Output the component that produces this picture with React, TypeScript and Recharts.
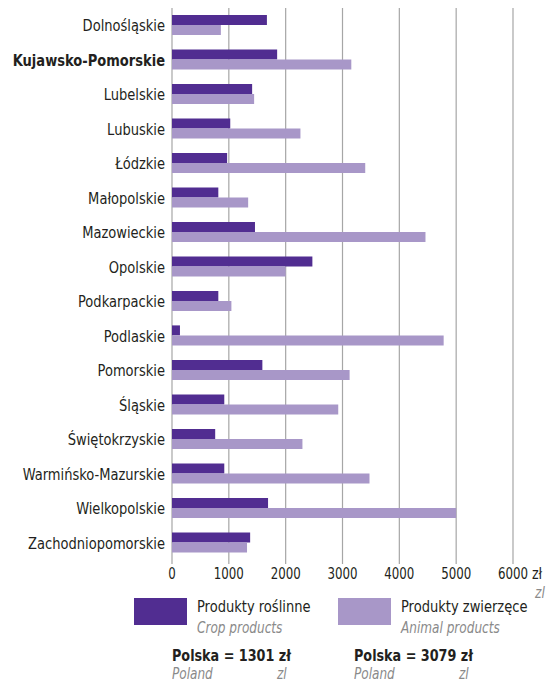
import React from 'react';
import { BarChart, Bar, XAxis, YAxis, CartesianGrid } from 'recharts';

const regions = [
  'Dolnośląskie',
  'Kujawsko-Pomorskie',
  'Lubelskie',
  'Lubuskie',
  'Łódzkie',
  'Małopolskie',
  'Mazowieckie',
  'Opolskie',
  'Podkarpackie',
  'Podlaskie',
  'Pomorskie',
  'Śląskie',
  'Świętokrzyskie',
  'Warmińsko-Mazurskie',
  'Wielkopolskie',
  'Zachodniopomorskie',
];
const cropValues = [1670, 1850, 1410, 1025, 970, 815, 1460, 2470, 815, 140, 1590, 920, 760, 920, 1690, 1375];
const animalValues = [860, 3155, 1445, 2260, 3400, 1340, 4460, 2000, 1045, 4780, 3125, 2925, 2295, 3475, 5000, 1320];
const xTicks = [0, 1000, 2000, 3000, 4000, 5000, 6000];
const boldRegion = 'Kujawsko-Pomorskie';
const seriesNamesPl = ['Produkty roślinne', 'Produkty zwierzęce'];
const seriesNamesEn = ['Crop products', 'Animal products'];
const polandAverages = [1301, 3079];
const unitPl = 'zł';
const unitEn = 'zl';
const polandPl = 'Polska';
const polandEn = 'Poland';

const CROP = '#512d91';
const ANIMAL = '#a897c8';
const FONT = "'Liberation Sans Narrow', 'DejaVu Sans Condensed', 'Arial Narrow', sans-serif";
const TEXT = '#231f20';
const GREY = '#8a8a8a';

const data = regions.map((r, i) => ({ region: r, crop: cropValues[i], animal: animalValues[i] }));

const RegionTick = (props: any) => {
  const { x, y, payload } = props;
  const bold = payload.value === boldRegion;
  return (
    <g transform={`translate(${x},${y}) scale(0.88,1)`}>
      <text
        x={0}
        y={0}
        dy="0.36em"
        textAnchor="end"
        fontFamily={FONT}
        fontSize={16.5}
        fontWeight={bold ? 700 : 400}
        fill={TEXT}
      >
        {payload.value}
      </text>
    </g>
  );
};

const ValueTick = (props: any) => {
  const { x, y, payload } = props;
  return (
    <g transform={`translate(${x},${y}) scale(0.82,1)`}>
      <text x={0} y={0} dy="0.72em" textAnchor="middle" fontFamily={FONT} fontSize={16} fill={TEXT}>
        {payload.value}
      </text>
    </g>
  );
};

const abs = (left: number, top: number, sx: number, extra: React.CSSProperties = {}): React.CSSProperties => ({
  position: 'absolute',
  left,
  top,
  fontFamily: FONT,
  lineHeight: '18px',
  whiteSpace: 'nowrap',
  transform: `scaleX(${sx})`,
  transformOrigin: 'left center',
  ...extra,
});

export default function App() {
  const legendX = [134, 338];
  const legendTextX = [197, 401];
  const avgX = [172, 354];
  return (
    <div style={{ position: 'absolute', left: 0, top: 0, width: 549, height: 682, background: '#fff', overflow: 'hidden' }}>
      <BarChart
        width={549}
        height={682}
        data={data}
        layout="vertical"
        margin={{ top: 8, right: 36, bottom: 92, left: 0 }}
        barCategoryGap="20%"
        barGap={0}
      >
        <CartesianGrid horizontal={false} vertical={true} stroke="#a6a6a6" strokeWidth={1.2} />
        <XAxis
          type="number"
          domain={[0, 6000]}
          ticks={xTicks}
          axisLine={false}
          tickLine={{ stroke: '#a6a6a6', strokeWidth: 1.2 }}
          tickSize={4}
          tickMargin={3}
          height={30}
          interval={0}
          tick={<ValueTick />}
        />
        <YAxis
          type="category"
          dataKey="region"
          width={172}
          axisLine={false}
          tickLine={false}
          tickSize={0}
          tickMargin={7}
          interval={0}
          tick={<RegionTick />}
        />
        <Bar dataKey="crop" fill={CROP} isAnimationActive={false} />
        <Bar dataKey="animal" fill={ANIMAL} isAnimationActive={false} />
      </BarChart>

      <div style={abs(532, 565, 0.85, { fontSize: 16.5, color: TEXT })}>{unitPl}</div>
      <div style={abs(535, 584, 0.85, { fontSize: 16, color: GREY, fontStyle: 'italic' })}>{unitEn}</div>

      {[CROP, ANIMAL].map((c, i) => (
        <React.Fragment key={i}>
          <div style={{ position: 'absolute', left: legendX[i], top: 598, width: 53, height: 27, background: c }} />
          <div style={abs(legendTextX[i], 598, 0.88, { fontSize: 16.5, color: TEXT })}>{seriesNamesPl[i]}</div>
          <div style={abs(legendTextX[i], 619, 0.84, { fontSize: 16, color: GREY, fontStyle: 'italic' })}>{seriesNamesEn[i]}</div>
          <div style={abs(avgX[i], 647, 0.86, { fontSize: 16.5, color: TEXT, fontWeight: 700 })}>
            {`${polandPl} = ${polandAverages[i]} ${unitPl}`}
          </div>
          <div style={abs(avgX[i], 665, 0.84, { fontSize: 16, color: GREY, fontStyle: 'italic' })}>{polandEn}</div>
          <div style={abs(avgX[i] + 105, 665, 0.84, { fontSize: 16, color: GREY, fontStyle: 'italic' })}>{unitEn}</div>
        </React.Fragment>
      ))}
    </div>
  );
}
